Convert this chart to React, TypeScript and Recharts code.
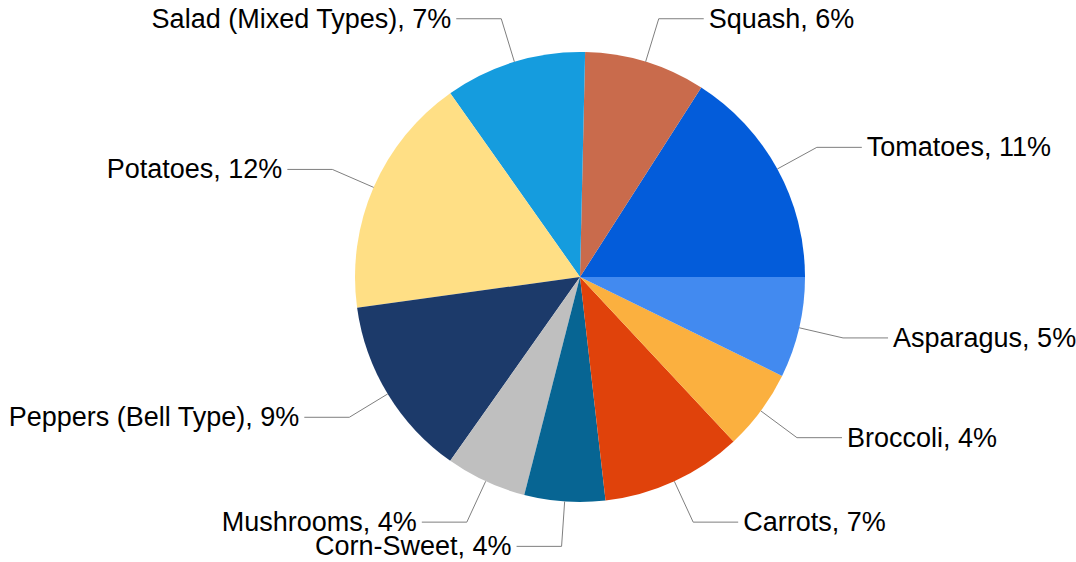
import { PieChart, Pie, Cell } from 'recharts';

const categories = [
  'Tomatoes',
  'Squash',
  'Salad (Mixed Types)',
  'Potatoes',
  'Peppers (Bell Type)',
  'Mushrooms',
  'Corn-Sweet',
  'Carrots',
  'Broccoli',
  'Asparagus',
];

const shares = [11, 6, 7, 12, 9, 4, 4, 7, 4, 5];

const colors = [
  '#035CDA',
  '#C96B4C',
  '#159CDE',
  '#FFDF85',
  '#1C3A6A',
  '#BFBFBF',
  '#076593',
  '#E0420B',
  '#FBB03F',
  '#428AF0',
];

const data = categories.map((name, i) => ({ name, value: shares[i] }));

const RADIAN = Math.PI / 180;

// Leader line: out along the middle angle, then a short horizontal run to the text
const renderLabel = (props: any) => {
  const { cx, cy, midAngle, outerRadius, name, value } = props;
  const cos = Math.cos(-midAngle * RADIAN);
  const sin = Math.sin(-midAngle * RADIAN);
  const sx = cx + outerRadius * cos;
  const sy = cy + outerRadius * sin;
  const mx = cx + (outerRadius + 45) * cos;
  const my = cy + (outerRadius + 45) * sin;
  const dir = cos >= 0 ? 1 : -1;
  const ex = mx + dir * 45;
  return (
    <g>
      <polyline
        points={`${sx},${sy} ${mx},${my} ${ex},${my}`}
        fill="none"
        stroke="#7f7f7f"
        strokeWidth={1}
      />
      <text
        x={ex + dir * 5}
        y={my}
        textAnchor={dir > 0 ? 'start' : 'end'}
        dominantBaseline="central"
        fill="#000"
        fontSize={27}
        fontFamily="'Liberation Sans', Arial, sans-serif"
      >
        {`${name}, ${value}%`}
      </text>
    </g>
  );
};

export default function App() {
  return (
    <div style={{ position: 'absolute', left: 0, top: 0, background: '#fff' }}>
      <PieChart width={1076} height={562} margin={{ top: 0, right: 0, bottom: 0, left: 0 }}>
        <Pie
          data={data}
          dataKey="value"
          nameKey="name"
          cx={580}
          cy={277}
          outerRadius={225}
          startAngle={0}
          endAngle={360}
          stroke="none"
          label={renderLabel}
          labelLine={false}
          isAnimationActive={false}
        >
          {data.map((entry, index) => (
            <Cell key={`cell-${index}`} fill={colors[index]} />
          ))}
        </Pie>
      </PieChart>
    </div>
  );
}
